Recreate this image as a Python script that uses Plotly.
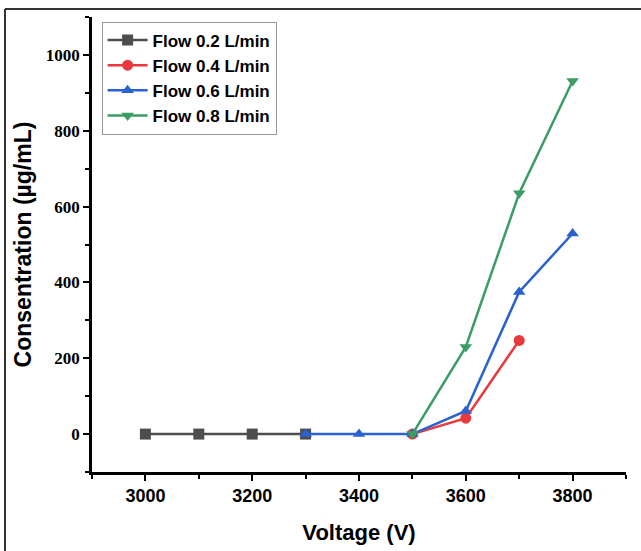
import plotly.graph_objects as go

x02 = [3000, 3100, 3200, 3300]
y02 = [0, 0, 0, 0]
x04 = [3500, 3600, 3700]
y04 = [0, 42, 247]
x06 = [3300, 3400, 3500, 3600, 3700, 3800]
y06 = [0, 0, 0, 61, 375, 529]
x08 = [3500, 3600, 3700, 3800]
y08 = [0, 230, 635, 931]

names = ["Flow 0.2 L/min", "Flow 0.4 L/min", "Flow 0.6 L/min", "Flow 0.8 L/min"]
colors = ["#4d4d4d", "#e8393f", "#2a62cf", "#3b9c64"]
symbols = ["square", "circle", "triangle-up", "triangle-down"]
series = [(x02, y02), (x04, y04), (x06, y06), (x08, y08)]

fig = go.Figure()
for (xs, ys), n, c, s in zip(series, names, colors, symbols):
    fig.add_trace(go.Scatter(x=xs, y=ys, name=n, mode="lines+markers",
                             line=dict(color=c, width=2.5),
                             marker=dict(symbol=s, size=11, color=c)))

L, R, T, B = 92, 15, 17, 79
PW, PH = 641 - L - R, 551 - T - B

fig.update_layout(
    width=641, height=551,
    margin=dict(l=L, r=R, t=T, b=B, autoexpand=False),
    plot_bgcolor="white", paper_bgcolor="white",
    showlegend=True,
    legend=dict(x=0.018, y=0.99, xanchor="left", yanchor="top",
                bgcolor="white", bordercolor="#999999", borderwidth=1,
                font=dict(family="Arial, Liberation Sans", size=17, color="black", weight="bold"),
                tracegroupgap=0, itemwidth=40),
    xaxis=dict(range=[2900, 3900], tickvals=[3000, 3200, 3400, 3600, 3800],
               ticks="outside", ticklen=6, tickwidth=2, tickcolor="black",
               showline=True, linecolor="black", linewidth=2.5, mirror=False,
               showgrid=False, zeroline=False, automargin=False,
               minor=dict(tickvals=[2900, 3100, 3300, 3500, 3700, 3900], ticks="outside",
                          ticklen=4, tickwidth=2, tickcolor="black"),
               tickfont=dict(family="Arial, Liberation Sans", size=18, color="black", weight="bold"),
               title=dict(text="Voltage (V)", standoff=20,
                          font=dict(family="Arial, Liberation Sans", size=22, color="black", weight="bold"))),
    yaxis=dict(range=[-100, 1100], tickvals=[0, 200, 400, 600, 800, 1000],
               ticks="outside", ticklen=6, tickwidth=2, tickcolor="black",
               showline=True, linecolor="black", linewidth=2.5, mirror=False,
               showgrid=False, zeroline=False, automargin=False,
               minor=dict(tickvals=[-100, 100, 300, 500, 700, 900, 1100], ticks="outside",
                          ticklen=4, tickwidth=2, tickcolor="black"),
               tickfont=dict(family="Times New Roman, Liberation Serif", size=17, color="black", weight="bold"),
               title=dict(text="Consentration (µg/mL)", standoff=8,
                          font=dict(family="Arial, Liberation Sans", size=23, color="black", weight="bold"))),
)

bx = (5 - L) / PW
by = (551 - 9 - B) / PH
fig.add_shape(type="line", xref="paper", yref="paper",
              x0=bx, x1=1.2, y0=by, y1=by, line=dict(color="#333333", width=2))
fig.add_shape(type="line", xref="paper", yref="paper",
              x0=bx, x1=bx, y0=by, y1=-0.3, line=dict(color="#333333", width=2))

fig.write_html("out.html", config={"displayModeBar": False},
               post_script="document.body.style.margin='0';")
